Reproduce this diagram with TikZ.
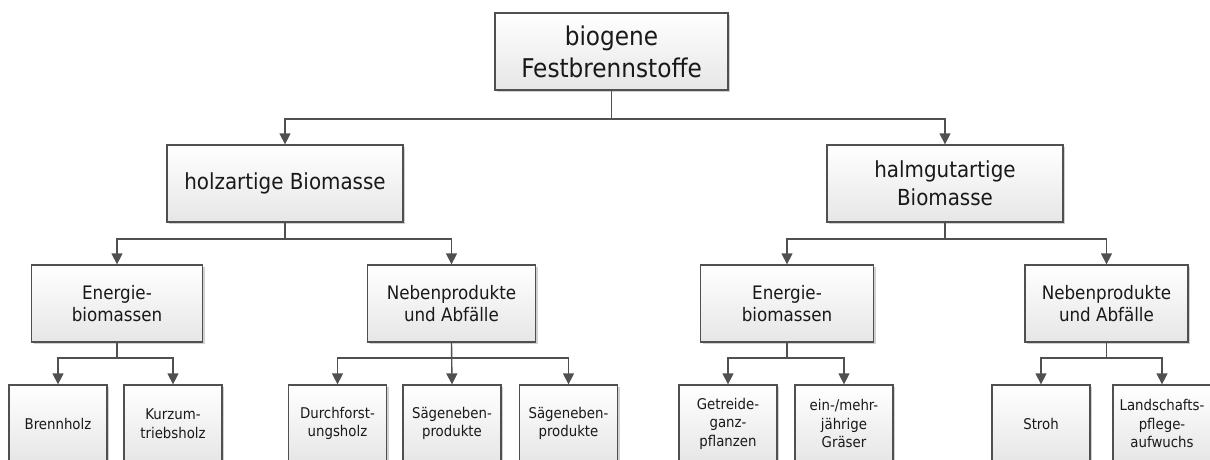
\documentclass[tikz,border=0pt]{standalone}
\usepackage{fontspec}
\setmainfont{DejaVu Sans Condensed}
\usetikzlibrary{arrows.meta,shadows}
\definecolor{linegray}{HTML}{505050}
\definecolor{boxbottom}{HTML}{E6E6E6}
\tikzset{
  box/.style={draw=linegray, line width=1.3pt, top color=white, bottom color=boxbottom,
    align=center, inner sep=2pt, text=black!90,
    drop shadow={shadow xshift=2pt, shadow yshift=-2pt, opacity=0.18, fill=black}},
  lone/.style={box, minimum height=77pt, font=\fontsize{25.8}{32}\selectfont},
  ltwo/.style={box, minimum height=77pt, font=\fontsize{22.1}{28}\selectfont},
  lthree/.style={box, minimum height=77pt, font=\fontsize{18.6}{22}\selectfont},
  lfour/.style={box, minimum height=77pt, minimum width=98pt, font=\fontsize{14.8}{18.5}\selectfont},
  conn/.style={draw=linegray, line width=1.4pt},
  arr/.style={conn, -{Triangle[width=11pt,length=11pt]}}
}
\begin{document}
\begin{tikzpicture}[x=1pt,y=-1pt]
\useasboundingbox (0,0) rectangle (1210,459);
\clip (0,0) rectangle (1210,459);
\fill[white] (0,0) rectangle (1210,459);
% level 1
\node[lone, minimum width=233pt] (top) at (611.5,51.5) {biogene\\Festbrennstoffe};
% level 2
\node[ltwo, minimum width=236pt] (holz) at (285,183.5) {holzartige Biomasse};
\node[ltwo, minimum width=236pt] (halm) at (945,183.5) {halmgutartige\\Biomasse};
% level 3
\node[lthree, minimum width=171pt] (e1) at (117,303.5) {Energie-\\biomassen};
\node[lthree, minimum width=168pt] (n1) at (451.5,303.5) {Nebenprodukte\\und Abfälle};
\node[lthree, minimum width=173pt] (e2) at (787,303.5) {Energie-\\biomassen};
\node[lthree, minimum width=163pt] (n2) at (1106.5,303.5) {Nebenprodukte\\und Abfälle};
% level 4
\node[lfour] (brenn) at (58,423.5) {Brennholz};
\node[lfour] (kurz) at (173,423.5) {Kurzum-\\triebsholz};
\node[lfour] (durch) at (337.5,423.5) {Durchforst-\\ungsholz};
\node[lfour] (saeg1) at (452,423.5) {Sägeneben-\\produkte};
\node[lfour] (saeg2) at (568.5,423.5) {Sägeneben-\\produkte};
\node[lfour] (getr) at (728,423.5) {Getreide-\\ganz-\\pflanzen};
\node[lfour] (gras) at (844,423.5) {ein-/mehr-\\jährige\\Gräser};
\node[lfour] (stroh) at (1041,423.5) {Stroh};
\node[lfour] (land) at (1162,423.5) {Landschafts-\\pflege-\\aufwuchs};
% junctions
\coordinate (j0) at (611.5,119);
\coordinate (jh) at (285,239);
\coordinate (jm) at (945,239);
\coordinate (je1) at (117,358);
\coordinate (jn1) at (451.5,358);
\coordinate (je2) at (787,358);
\coordinate (jn2) at (1106.5,358);
% connectors
\draw[conn] (top.south) -- (j0);
\draw[arr] (j0) -| (holz.north);
\draw[arr] (j0) -| (halm.north);
\draw[conn] (holz.south) -- (jh);
\draw[arr] (jh) -| (e1.north);
\draw[arr] (jh) -| (n1.north);
\draw[conn] (halm.south) -- (jm);
\draw[arr] (jm) -| (e2.north);
\draw[arr] (jm) -| (n2.north);
\draw[conn] (e1.south) -- (je1);
\draw[arr] (je1) -| (brenn.north);
\draw[arr] (je1) -| (kurz.north);
\draw[arr] (n1.south) -- (saeg1.north);
\draw[arr] (jn1) -| (durch.north);
\draw[arr] (jn1) -| (saeg2.north);
\draw[conn] (e2.south) -- (je2);
\draw[arr] (je2) -| (getr.north);
\draw[arr] (je2) -| (gras.north);
\draw[conn] (n2.south) -- (jn2);
\draw[arr] (jn2) -| (stroh.north);
\draw[arr] (jn2) -| (land.north);
\end{tikzpicture}
\end{document}
